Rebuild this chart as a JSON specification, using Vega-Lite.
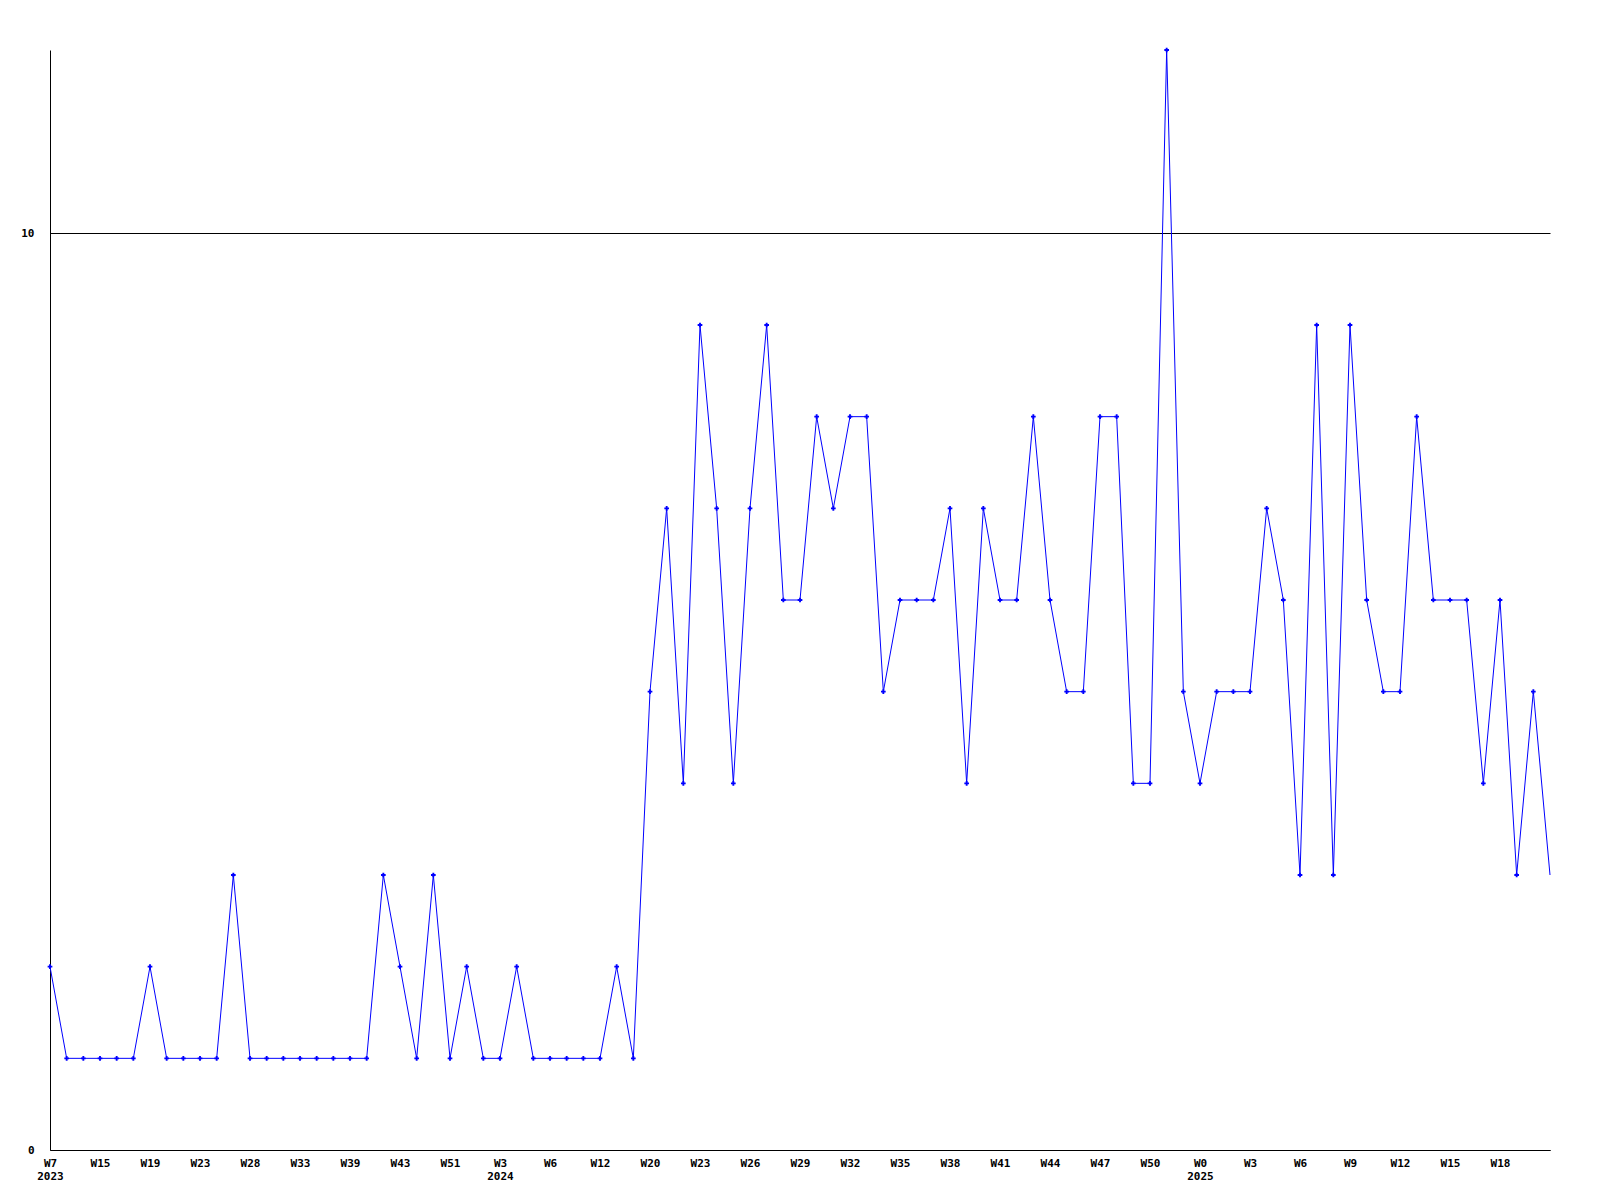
{
  "$schema": "https://vega.github.io/schema/vega-lite/v6.json",
  "width": 1500,
  "height": 1100,
  "autosize": "none",
  "padding": {"left": 50, "top": 50, "right": 50, "bottom": 50},
  "background": "white",
  "config": {
    "view": {"stroke": null},
    "axis": {
      "labelFont": "DejaVu Sans Mono",
      "labelFontWeight": "bold",
      "labelFontSize": 11,
      "labelColor": "black",
      "domainColor": "black",
      "domainWidth": 1,
      "ticks": false,
      "tickSize": 0,
      "title": null
    }
  },
  "data": {
    "values": [
      {"week": "2023-W7", "count": 2},
      {"week": "2023-W9", "count": 1},
      {"week": "2023-W12", "count": 1},
      {"week": "2023-W15", "count": 1},
      {"week": "2023-W16", "count": 1},
      {"week": "2023-W17", "count": 1},
      {"week": "2023-W19", "count": 2},
      {"week": "2023-W20", "count": 1},
      {"week": "2023-W21", "count": 1},
      {"week": "2023-W23", "count": 1},
      {"week": "2023-W25", "count": 1},
      {"week": "2023-W26", "count": 3},
      {"week": "2023-W28", "count": 1},
      {"week": "2023-W30", "count": 1},
      {"week": "2023-W31", "count": 1},
      {"week": "2023-W33", "count": 1},
      {"week": "2023-W35", "count": 1},
      {"week": "2023-W37", "count": 1},
      {"week": "2023-W39", "count": 1},
      {"week": "2023-W40", "count": 1},
      {"week": "2023-W41", "count": 3},
      {"week": "2023-W43", "count": 2},
      {"week": "2023-W46", "count": 1},
      {"week": "2023-W48", "count": 3},
      {"week": "2023-W51", "count": 1},
      {"week": "2023-W52", "count": 2},
      {"week": "2024-W1", "count": 1},
      {"week": "2024-W3", "count": 1},
      {"week": "2024-W4", "count": 2},
      {"week": "2024-W5", "count": 1},
      {"week": "2024-W6", "count": 1},
      {"week": "2024-W8", "count": 1},
      {"week": "2024-W10", "count": 1},
      {"week": "2024-W12", "count": 1},
      {"week": "2024-W15", "count": 2},
      {"week": "2024-W17", "count": 1},
      {"week": "2024-W20", "count": 5},
      {"week": "2024-W21", "count": 7},
      {"week": "2024-W22", "count": 4},
      {"week": "2024-W23", "count": 9},
      {"week": "2024-W24", "count": 7},
      {"week": "2024-W25", "count": 4},
      {"week": "2024-W26", "count": 7},
      {"week": "2024-W27", "count": 9},
      {"week": "2024-W28", "count": 6},
      {"week": "2024-W29", "count": 6},
      {"week": "2024-W30", "count": 8},
      {"week": "2024-W31", "count": 7},
      {"week": "2024-W32", "count": 8},
      {"week": "2024-W33", "count": 8},
      {"week": "2024-W34", "count": 5},
      {"week": "2024-W35", "count": 6},
      {"week": "2024-W36", "count": 6},
      {"week": "2024-W37", "count": 6},
      {"week": "2024-W38", "count": 7},
      {"week": "2024-W39", "count": 4},
      {"week": "2024-W40", "count": 7},
      {"week": "2024-W41", "count": 6},
      {"week": "2024-W42", "count": 6},
      {"week": "2024-W43", "count": 8},
      {"week": "2024-W44", "count": 6},
      {"week": "2024-W45", "count": 5},
      {"week": "2024-W46", "count": 5},
      {"week": "2024-W47", "count": 8},
      {"week": "2024-W48", "count": 8},
      {"week": "2024-W49", "count": 4},
      {"week": "2024-W50", "count": 4},
      {"week": "2024-W51", "count": 12},
      {"week": "2024-W52", "count": 5},
      {"week": "2025-W0", "count": 4},
      {"week": "2025-W1", "count": 5},
      {"week": "2025-W2", "count": 5},
      {"week": "2025-W3", "count": 5},
      {"week": "2025-W4", "count": 7},
      {"week": "2025-W5", "count": 6},
      {"week": "2025-W6", "count": 3},
      {"week": "2025-W7", "count": 9},
      {"week": "2025-W8", "count": 3},
      {"week": "2025-W9", "count": 9},
      {"week": "2025-W10", "count": 6},
      {"week": "2025-W11", "count": 5},
      {"week": "2025-W12", "count": 5},
      {"week": "2025-W13", "count": 8},
      {"week": "2025-W14", "count": 6},
      {"week": "2025-W15", "count": 6},
      {"week": "2025-W16", "count": 6},
      {"week": "2025-W17", "count": 4},
      {"week": "2025-W18", "count": 6},
      {"week": "2025-W19", "count": 3},
      {"week": "2025-W20", "count": 5},
      {"week": "2025-W21", "count": 3}
    ]
  },
  "encoding": {
    "x": {
      "field": "week",
      "type": "ordinal",
      "sort": null,
      "scale": {"type": "point", "padding": 0},
      "axis": {
        "values": ["2023-W7", "2023-W15", "2023-W19", "2023-W23", "2023-W28", "2023-W33", "2023-W39", "2023-W43", "2023-W51", "2024-W3", "2024-W6", "2024-W12", "2024-W20", "2024-W23", "2024-W26", "2024-W29", "2024-W32", "2024-W35", "2024-W38", "2024-W41", "2024-W44", "2024-W47", "2024-W50", "2025-W0", "2025-W3", "2025-W6", "2025-W9", "2025-W12", "2025-W15", "2025-W18"],
        "labelExpr": "indexof(['2023-W7','2024-W3','2025-W0'], datum.value) >= 0 ? [split(datum.value,'-')[1], split(datum.value,'-')[0]] : split(datum.value,'-')[1]",
        "labelAngle": 0,
        "labelAlign": "center",
        "labelBaseline": "top",
        "labelPadding": 7,
        "labelLineHeight": 13,
        "labelOverlap": false,
        "grid": false
      }
    },
    "y": {
      "field": "count",
      "type": "quantitative",
      "scale": {"domain": [0, 12], "nice": false, "zero": true},
      "axis": {
        "values": [0, 10],
        "grid": true,
        "gridColor": "black",
        "gridOpacity": 1,
        "gridWidth": 1,
        "labelPadding": 16
      }
    }
  },
  "layer": [
    {"mark": {"type": "line", "color": "#0000ff", "strokeWidth": 1, "clip": false}},
    {
      "transform": [{"filter": "datum.week != '2025-W21'"}],
      "mark": {"type": "point", "shape": "cross", "filled": true, "color": "#0000ff", "size": 22, "opacity": 1}
    }
  ]
}
